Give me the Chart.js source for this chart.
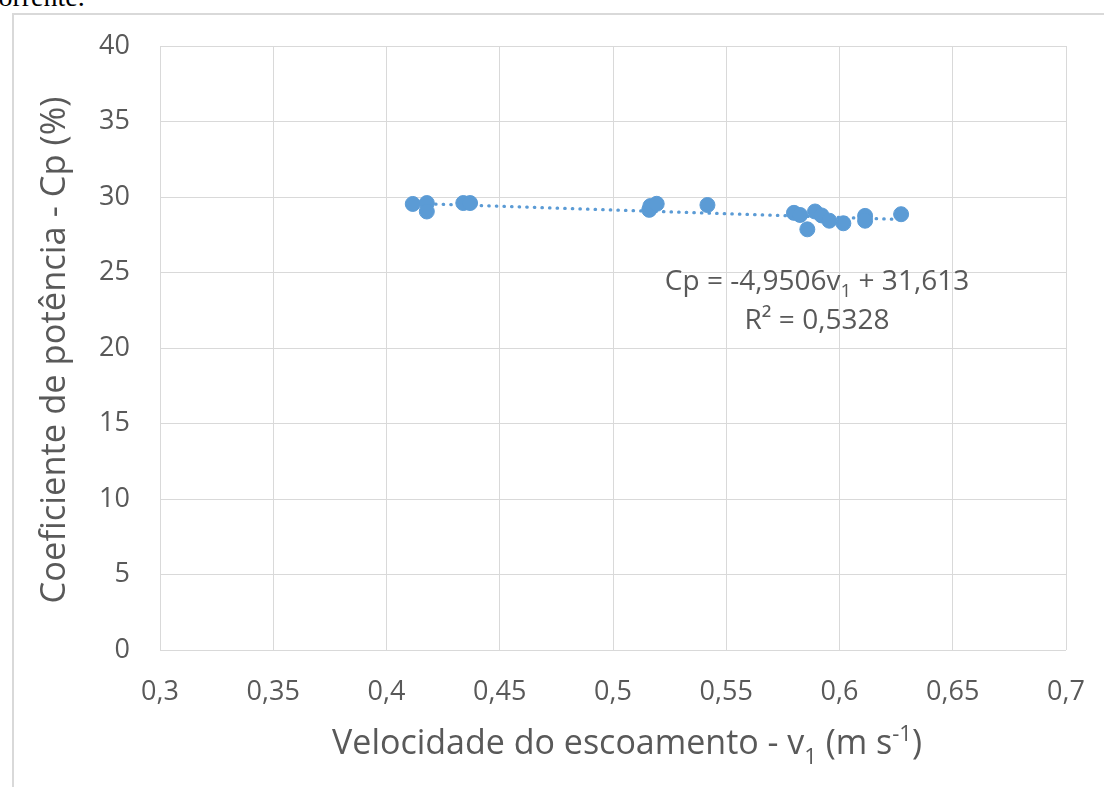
<!DOCTYPE html>
<html>
<head>
<meta charset="utf-8">
<script src="https://cdn.jsdelivr.net/npm/chart.js@4/dist/chart.umd.min.js"></script>
<style>
  html, body { margin:0; padding:0; background:#fff; width:1104px; height:787px; overflow:hidden; }
  #frame { position:absolute; left:12px; top:13px; width:1100px; height:790px; border-left:2px solid #d9d9d9; border-top:2px solid #d9d9d9; box-sizing:border-box; }
  #doc { position:absolute; left:-14px; top:-19px; font-family:"Liberation Serif", serif; font-size:28px; color:#000; white-space:nowrap; }
  #wrap { position:absolute; left:13px; top:14px; width:1091px; height:773px; }
</style>
</head>
<body>
<div id="doc">corrente.</div>
<div id="frame"></div>
<div id="wrap"><canvas id="c"></canvas></div>
<script>
// Data
const velocity = [0.4116, 0.4178, 0.4178, 0.4339, 0.4369, 0.5160, 0.5165, 0.5193, 0.5417,
                  0.5799, 0.5826, 0.5858, 0.5892, 0.5921, 0.5955, 0.6017, 0.6113, 0.6113, 0.6272];
const cp       = [29.54, 29.60, 29.04, 29.60, 29.60, 29.15, 29.40, 29.55, 29.47,
                  28.95, 28.81, 27.86, 29.04, 28.78, 28.43, 28.26, 28.75, 28.43, 28.86];
const trendX = [0.4116, 0.6272];
const trendY = [29.575, 28.508];
const xTicks = [0.3, 0.35, 0.4, 0.45, 0.5, 0.55, 0.6, 0.65, 0.7];
const yTicks = [0, 5, 10, 15, 20, 25, 30, 35, 40];
const yTitle = "Coeficiente de potência - Cp (%)";
const xTitleParts = ["Velocidade do escoamento - v", "1", " (m s", "-1", ")"];
const eqParts = ["Cp = -4,9506v", "1", " + 31,613"];
const r2Text = "R² = 0,5328";

const FONT = '"Open Sans", "Noto Sans", sans-serif';
const GREY = '#595959';
const BLUE = '#5b9bd5';
const fmt = v => Number(v.toFixed(2)).toString().replace('.', ',');

const titlesPlugin = {
  id: 'titles',
  afterDraw(chart) {
    const ctx = chart.ctx;
    // canvas is offset by (13,14) in the page
    const OX = 13, OY = 14;
    ctx.save();
    ctx.fillStyle = GREY;
    // Y title
    ctx.font = '34.5px ' + FONT;
    ctx.translate(55 - OX, 350 - OY);
    ctx.rotate(-Math.PI / 2);
    ctx.textAlign = 'center';
    ctx.textBaseline = 'middle';
    ctx.fillText(yTitle, 0, 0);
    ctx.restore();

    // X title with sub/superscript
    ctx.save();
    ctx.fillStyle = GREY;
    ctx.textBaseline = 'alphabetic';
    const big = '34px ' + FONT, small = '22px ' + FONT;
    const widths = xTitleParts.map((t, i) => { ctx.font = (i === 1 || i === 3) ? small : big; return ctx.measureText(t).width; });
    const total = widths.reduce((a, b) => a + b, 0);
    let x = 627 - OX - total / 2;
    const base = 754 - OY;
    xTitleParts.forEach((t, i) => {
      ctx.font = (i === 1 || i === 3) ? small : big;
      const dy = i === 1 ? 10 : (i === 3 ? -13 : 0);
      ctx.fillText(t, x, base + dy);
      x += widths[i];
    });

    // Equation annotation
    const eqBig = '28px ' + FONT, eqSmall = '19px ' + FONT;
    const ew = eqParts.map((t, i) => { ctx.font = i === 1 ? eqSmall : eqBig; return ctx.measureText(t).width; });
    const etotal = ew.reduce((a, b) => a + b, 0);
    const cx = 817 - OX;
    let ex = cx - etotal / 2;
    eqParts.forEach((t, i) => {
      ctx.font = i === 1 ? eqSmall : eqBig;
      ctx.fillText(t, ex, 290 - OY + (i === 1 ? 7 : 0));
      ex += ew[i];
    });
    ctx.font = eqBig;
    ctx.textAlign = 'center';
    ctx.fillText(r2Text, cx, 329 - OY);
    ctx.restore();
  }
};

new Chart(document.getElementById('c'), {
  type: 'scatter',
  data: {
    datasets: [
      {
        type: 'line',
        data: trendX.map((x, i) => ({ x, y: trendY[i] })),
        borderColor: BLUE,
        borderWidth: 3.2,
        borderDash: [0.5, 7.1],
        borderCapStyle: 'round',
        pointRadius: 0,
        fill: false,
        order: 2
      },
      {
        data: velocity.map((x, i) => ({ x, y: cp[i] })),
        backgroundColor: BLUE,
        borderColor: BLUE,
        pointRadius: 7.5,
        pointHoverRadius: 7.5,
        order: 1
      }
    ]
  },
  options: {
    responsive: true,
    maintainAspectRatio: false,
    animation: false,
    events: [],
    layout: { padding: { left: 0, top: 32, right: 38, bottom: 0 } },
    plugins: { legend: { display: false }, tooltip: { enabled: false } },
    scales: {
      x: {
        type: 'linear',
        min: 0.3, max: 0.7,
        afterBuildTicks: s => { s.ticks = xTicks.map(v => ({ value: v })); },
        afterFit: s => { s.height = 137; s.paddingLeft = 0; s.paddingRight = 0; },
        grid: { color: '#d9d9d9', lineWidth: 1, drawTicks: false },
        border: { display: false },
        ticks: { color: GREY, font: { family: FONT, size: 27 }, padding: 26, callback: v => fmt(v), maxRotation: 0 }
      },
      y: {
        min: 0, max: 40,
        afterBuildTicks: s => { s.ticks = yTicks.map(v => ({ value: v })); },
        afterFit: s => { s.width = 147; s.paddingTop = 0; s.paddingBottom = 0; },
        grid: { color: '#d9d9d9', lineWidth: 1, drawTicks: false },
        border: { display: false },
        ticks: { color: GREY, font: { family: FONT, size: 27 }, padding: 30, callback: v => fmt(v) }
      }
    }
  },
  plugins: [titlesPlugin]
});
</script>
</body>
</html>
